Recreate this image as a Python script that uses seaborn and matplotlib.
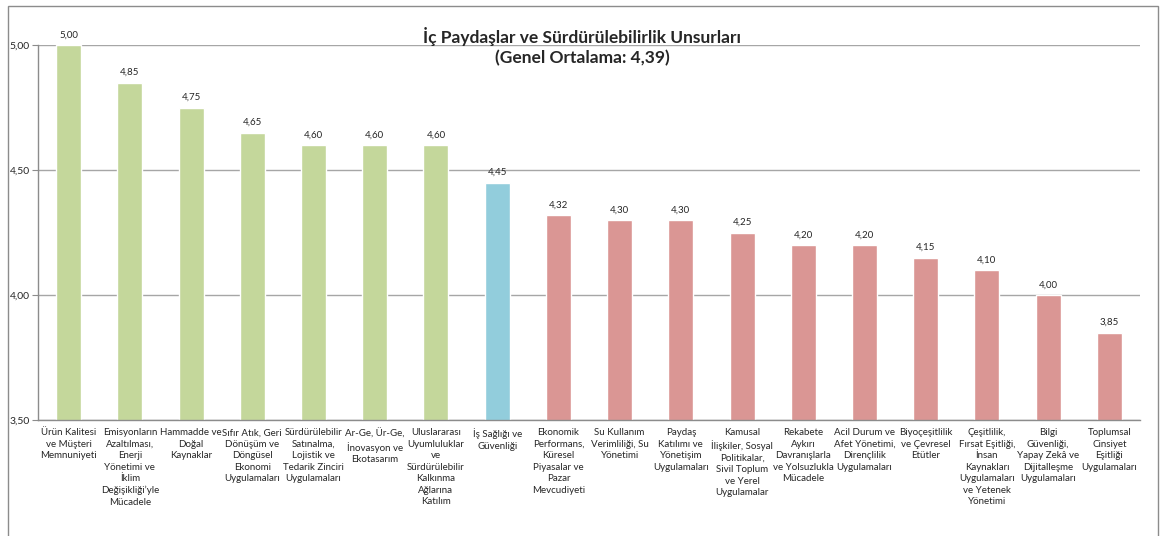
import numpy as np
import pandas as pd
import seaborn as sns
import matplotlib.pyplot as plt
from matplotlib.patches import Rectangle

categories = [
    "Ürün Kalitesi\nve Müşteri\nMemnuniyeti",
    "Emisyonların\nAzaltılması,\nEnerji\nYönetimi ve\nİklim\nDeğişikliği’yle\nMücadele",
    "Hammadde ve\nDoğal\nKaynaklar",
    "Sıfır Atık, Geri\nDönüşüm ve\nDöngüsel\nEkonomi\nUygulamaları",
    "Sürdürülebilir\nSatınalma,\nLojistik ve\nTedarik Zinciri\nUygulamaları",
    "Ar-Ge, Ür-Ge,\nİnovasyon ve\nEkotasarım",
    "Uluslararası\nUyumluluklar\nve\nSürdürülebilir\nKalkınma\nAğlarına\nKatılım",
    "İş Sağlığı ve\nGüvenliği",
    "Ekonomik\nPerformans,\nKüresel\nPiyasalar ve\nPazar\nMevcudiyeti",
    "Su Kullanım\nVerimliliği, Su\nYönetimi",
    "Paydaş\nKatılımı ve\nYönetişim\nUygulamaları",
    "Kamusal\nİlişkiler, Sosyal\nPolitikalar,\nSivil Toplum\nve Yerel\nUygulamalar",
    "Rekabete\nAykırı\nDavranışlarla\nve Yolsuzlukla\nMücadele",
    "Acil Durum ve\nAfet Yönetimi,\nDirençlilik\nUygulamaları",
    "Biyoçeşitlilik\nve Çevresel\nEtütler",
    "Çeşitlilik,\nFırsat Eşitliği,\nİnsan\nKaynakları\nUygulamaları\nve Yetenek\nYönetimi",
    "Bilgi\nGüvenliği,\nYapay Zekâ ve\nDijitalleşme\nUygulamaları",
    "Toplumsal\nCinsiyet\nEşitliği\nUygulamaları",
]
values = [5.00, 4.85, 4.75, 4.65, 4.60, 4.60, 4.60, 4.45, 4.32,
          4.30, 4.30, 4.25, 4.20, 4.20, 4.15, 4.10, 4.00, 3.85]
groups = ["high"] * 7 + ["mid"] + ["low"] * 10
group_colors = {"high": "#C4D79B", "mid": "#92CDDC", "low": "#DA9694"}
y_ticks = [3.50, 4.00, 4.50, 5.00]

df = pd.DataFrame({"unsur": categories, "puan": values, "grup": groups})

sns.set_style("white")
plt.rcParams['font.family'] = ['Lato', 'DejaVu Sans']

fig = plt.figure(figsize=(11.65, 5.36), dpi=100)
ax = fig.add_axes([38 / 1165, 116 / 536, 1102 / 1165, 375 / 536])

palette = [group_colors[g] for g in groups]
sns.barplot(data=df, x="unsur", y="puan", hue="unsur", palette=palette,
            legend=False, width=0.41, ax=ax, saturation=1)

ax.set_ylim(3.5, 5.0)
ax.set_xlim(-0.5, len(categories) - 0.5)
ax.set_yticks(y_ticks)
ax.set_yticklabels([f"{v:.2f}".replace(".", ",") for v in y_ticks], fontsize=7.5)
ax.set_xticks(range(len(categories)))
ax.set_xticklabels(categories, fontsize=7, linespacing=1.35)
ax.set_xticks(np.arange(-0.5, len(categories), 1), minor=True)
ax.tick_params(axis="x", which="major", length=0, pad=6)
ax.tick_params(axis="x", which="minor", length=4, color="#8C8C8C", direction="out")
ax.tick_params(axis="y", length=4, color="#8C8C8C", direction="out", pad=2, left=True)
ax.set_xlabel("")
ax.set_ylabel("")
ax.yaxis.grid(True, color="#A6A6A6", linewidth=1)
ax.set_axisbelow(True)
for s in ["top", "right"]:
    ax.spines[s].set_visible(False)
for s in ["left", "bottom"]:
    ax.spines[s].set_color("#8C8C8C")
    ax.spines[s].set_linewidth(1)

for i, v in enumerate(values):
    ax.annotate(f"{v:.2f}".replace(".", ","), (i, v), xytext=(0, 4),
                textcoords="offset points", ha="center", va="bottom", fontsize=7)

fig.text(582 / 1165, 1 - 37 / 536, "İç Paydaşlar ve Sürdürülebilirlik Unsurları",
         ha="center", va="center", fontsize=12.5, fontweight="bold")
fig.text(582 / 1165, 1 - 58 / 536, "(Genel Ortalama: 4,39)",
         ha="center", va="center", fontsize=12.5, fontweight="bold")

fig.patches.append(Rectangle((8 / 1165, -0.05), 1150 / 1165, 1 - 6 / 536 + 0.05,
                             transform=fig.transFigure, fill=False,
                             edgecolor="#8C8C8C", linewidth=1))

fig.savefig("out.png", dpi=100)
